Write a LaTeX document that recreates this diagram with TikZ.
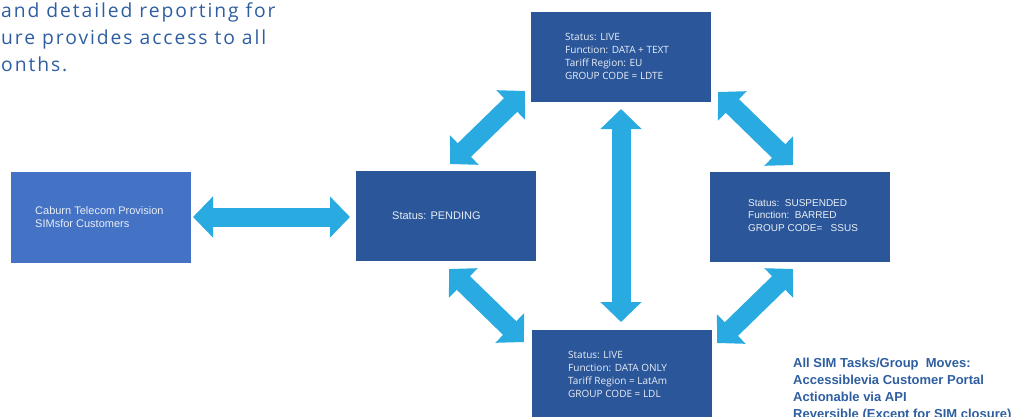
\documentclass[tikz,border=0pt]{standalone}
\usepackage{fontspec}
\setmainfont{Liberation Sans}
\newfontfamily\opn{Open Sans}
\newfontfamily\topfont[LetterSpace=10]{Open Sans}
\usetikzlibrary{arrows.meta}
\definecolor{boxdark}{HTML}{2B579A}
\definecolor{boxlight}{HTML}{4472C4}
\definecolor{arrcol}{HTML}{29ABE2}
\definecolor{txtblue}{HTML}{2E5EA0}
\definecolor{boxtxt}{HTML}{E8EEF6}
\begin{document}
\begin{tikzpicture}[x=1pt,y=-1pt,
 box/.style={draw=none, fill=boxdark, minimum width=180pt, minimum height=90pt, inner sep=0pt},
 lbl/.style={anchor=base west, inner sep=0pt, align=left, text=boxtxt, font=\fontsize{10}{12.2}\selectfont},
 albl/.style={lbl, font=\fontsize{11}{13}\selectfont},
 clbl/.style={lbl, font=\opn\fontsize{10}{12.7}\selectfont},
 dbl/.style={arrcol, line width=19pt, {Triangle[length=20pt,width=40pt]}-{Triangle[length=20pt,width=40pt]}}
]
\useasboundingbox (0,0) rectangle (1016,416);
\begin{scope}
\clip (0,0) rectangle (1016,416);
% boxes
\node[box, fill=boxlight, minimum height=91pt] (caburn) at (101,217.5) {};
\node[box] (pending) at (446,216) {};
\node[box] (live1) at (621,56.5) {};
\node[box] (susp) at (800,216.5) {};
\node[box] (live2) at (622,375) {};
% labels (anchored at the baseline of the last line)
\node[albl] (tcab) at (35,227) {Caburn Telecom Provision\\SIMsfor Customers};
\node[albl] (tpen) at (392,219) {Status: PENDING};
\node[clbl] (tl1) at (565,79) {Status: LIVE\\Function: DATA + TEXT\\Tariff Region: EU\\GROUP CODE = LDTE};
\node[lbl] (tsus) at (748,231) {Status:\ \ SUSPENDED\\Function:\ \ BARRED\\GROUP CODE=\ \ \ SSUS};
\node[clbl] (tl2) at (568,397) {Status: LIVE\\Function: DATA ONLY\\Tariff Region = LatAm\\GROUP CODE = LDL};
% free text
\node[anchor=base west, inner sep=0pt, align=left, text=txtblue, font=\topfont\fontsize{19.3}{26.7}\selectfont] (intro) at (1,71)
 {and detailed reporting for\\ure provides access to all\\onths.};
\node[anchor=base west, inner sep=0pt, align=left, text=txtblue, font=\bfseries\fontsize{13}{17}\selectfont] (notes) at (793,418)
 {All SIM Tasks/Group\ \ Moves:\\Accessiblevia Customer Portal\\Actionable via API\\Reversible (Except for SIM closure)};
% arrow end points
\coordinate (h1) at (193,217);
\coordinate (h2) at (350,217);
\coordinate (v1) at (621,109);
\coordinate (v2) at (621,322);
\coordinate (a1) at (450,164);
\coordinate (a2) at (525,91);
\coordinate (b1) at (718,92);
\coordinate (b2) at (793,165);
\coordinate (c1) at (449,269);
\coordinate (c2) at (524,342);
\coordinate (d1) at (793,269);
\coordinate (d2) at (717,343);
\draw[dbl] (h1) -- (h2);
\draw[dbl] (v1) -- (v2);
\draw[dbl] (a1) -- (a2);
\draw[dbl] (b1) -- (b2);
\draw[dbl] (c1) -- (c2);
\draw[dbl] (d1) -- (d2);
\end{scope}
\end{tikzpicture}
\end{document}
